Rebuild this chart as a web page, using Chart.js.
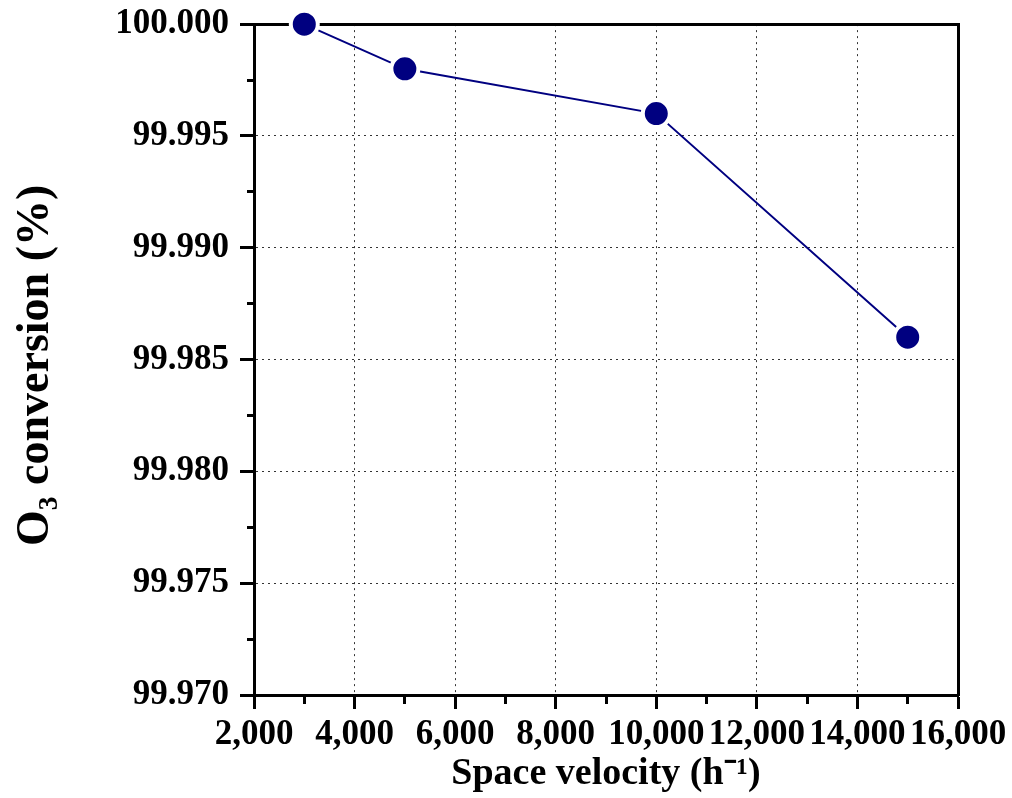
<!DOCTYPE html>
<html>
<head>
<meta charset="utf-8">
<script src="https://cdn.jsdelivr.net/npm/chart.js@4.4.1/dist/chart.umd.min.js"></script>
<style>
html,body{margin:0;padding:0;background:#fff;}
#wrap{width:1012px;height:798px;}
</style>
</head>
<body>
<div id="wrap"><canvas id="c" width="1012" height="798"></canvas></div>
<script>
const spaceVelocity = [3000, 5000, 10000, 15000];
const o3Conversion = [100.000, 99.998, 99.996, 99.986];
const xTitle = 'Space velocity (h\u207B\u00B9)';
const yTitle = 'O\u2083 conversion (%)\u00A0';

const FONT = "'Liberation Serif', 'Times New Roman', serif";
const navy = '#000080';

const points = spaceVelocity.map((v, i) => ({x: v, y: o3Conversion[i]}));

const isMajorY = v => Math.abs(v * 200 - Math.round(v * 200)) < 1e-6;
const isMajorX = v => Math.round(v) % 2000 === 0;

new Chart(document.getElementById('c'), {
  type: 'line',
  data: {
    datasets: [{
      data: points,
      borderColor: navy,
      borderWidth: 2,
      backgroundColor: navy,
      pointBackgroundColor: navy,
      pointBorderColor: '#ffffff',
      pointBorderWidth: 4,
      pointRadius: 13.5,
      pointHoverRadius: 13.5,
      tension: 0,
      clip: false
    }]
  },
  options: {
    responsive: false,
    animation: false,
    devicePixelRatio: 1,
    layout: {padding: {left: 0, top: 24, right: 54, bottom: 0}},
    plugins: {legend: {display: false}, tooltip: {enabled: false}},
    scales: {
      x: {
        type: 'linear',
        position: 'bottom',
        min: 2000, max: 16000,
        afterFit: s => { s.height = 103; },
        border: {display: true, color: '#000', width: 3, dash: [2, 4]},
        grid: {
          color: c => (isMajorX(c.tick.value) ? '#333' : 'rgba(0,0,0,0)'),
          lineWidth: 1,
          tickLength: 14,
          tickWidth: 3,
          tickColor: '#000',
          tickBorderDash: c => (isMajorX(c.tick.value) ? [] : [7, 100])
        },
        ticks: {
          stepSize: 1000,
          autoSkip: false,
          maxRotation: 0,
          padding: 5,
          color: '#000',
          font: {family: FONT, size: 35, weight: 'bold'},
          callback: v => (isMajorX(v) ? Number(v).toLocaleString('en-US') : '')
        },
        title: {
          display: true,
          text: xTitle,
          color: '#000',
          font: {family: FONT, size: 38, weight: 'bold'},
          padding: {top: 0, bottom: 1}
        }
      },
      x2: {
        type: 'linear',
        position: 'top',
        min: 2000, max: 16000,
        afterFit: s => { s.height = 0; },
        border: {display: true, color: '#000', width: 3},
        grid: {drawOnChartArea: false, drawTicks: false},
        ticks: {display: false}
      },
      y: {
        type: 'linear',
        position: 'left',
        min: 99.970, max: 100.000,
        afterFit: s => { s.width = 254; },
        border: {display: true, color: '#000', width: 3, dash: [2, 4]},
        grid: {
          color: c => (isMajorY(c.tick.value) ? '#333' : 'rgba(0,0,0,0)'),
          lineWidth: 1,
          tickLength: 14,
          tickWidth: 3,
          tickColor: '#000',
          tickBorderDash: c => (isMajorY(c.tick.value) ? [] : [0, 7, 7, 100])
        },
        ticks: {
          stepSize: 0.0025,
          autoSkip: false,
          padding: 11,
          color: '#000',
          font: {family: FONT, size: 35, weight: 'bold', lineHeight: 0.75},
          callback: v => (isMajorY(v) ? Number(v).toFixed(3) : '')
        },
        title: {
          display: true,
          text: yTitle,
          color: '#000',
          font: {family: FONT, size: 46, weight: 'bold'},
          padding: {top: 9, bottom: 0}
        }
      },
      y2: {
        type: 'linear',
        position: 'right',
        min: 99.970, max: 100.000,
        afterFit: s => { s.width = 0; },
        border: {display: true, color: '#000', width: 3},
        grid: {drawOnChartArea: false, drawTicks: false},
        ticks: {display: false}
      }
    }
  }
});
</script>
</body>
</html>
